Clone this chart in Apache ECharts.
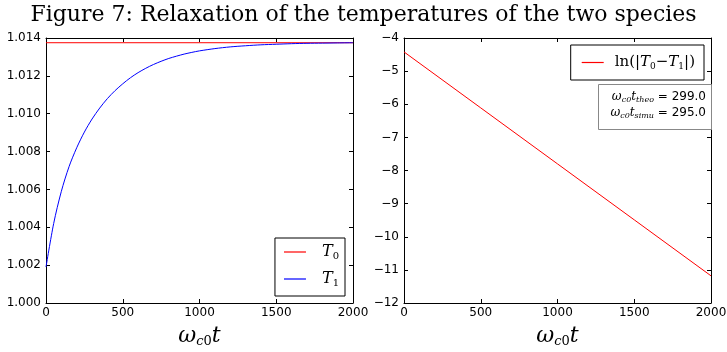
<!DOCTYPE html>
<html>
<head>
<meta charset="utf-8">
<script src="https://cdn.jsdelivr.net/npm/echarts@6/dist/echarts.min.js"></script>
<style>
  html, body { margin: 0; padding: 0; background: #fff; }
  #chart { width: 727px; height: 352px; }
</style>
</head>
<body>
<div id="chart"></div>
<script>
// Temperatures of the two species versus omega_c0 * t
const timeT1 = [0, 50, 100, 150, 200, 250, 300, 350, 400, 450, 500, 550, 600, 650, 700, 750,
                800, 850, 900, 950, 1000, 1100, 1200, 1300, 1400, 1500, 1600, 1700, 1800, 1900, 2000];
const valuesT1 = [1.0019, 1.0042, 1.0059, 1.0072, 1.0082, 1.00903, 1.00972, 1.01030, 1.01080,
                  1.01122, 1.01158, 1.01190, 1.01217, 1.01240, 1.01260, 1.01277, 1.01292, 1.01304,
                  1.01315, 1.01324, 1.01332, 1.01344, 1.01353, 1.01359, 1.01364, 1.01367, 1.01370,
                  1.01372, 1.01373, 1.01374, 1.01375];
const timeT0 = [0, 2000];
const valuesT0 = [1.01375, 1.01375];

// ln(|T0 - T1|) versus omega_c0 * t
const timeLn = [0, 500, 1000, 1500, 2000];
const valuesLn = [-4.42, -6.11, -7.80, -9.49, -11.18];

// Relaxation times quoted in the annotation box
const tTheo = 299.0;
const tSimu = 295.0;

const titleText = 'Figure 7: Relaxation of the temperatures of the two species';
const xTicks = { min: 0, max: 2000, interval: 500 };
const yTicksLeft = { min: 1.000, max: 1.014, interval: 0.002 };
const yTicksRight = { min: -12, max: -4, interval: 1 };

const pair = (xs, ys) => xs.map((x, i) => [x, ys[i]]);

const SERIF = '"DejaVu Serif", "Liberation Serif", serif';
const SANS = '"DejaVu Sans", sans-serif';

function mathRich(size) {
  return {
    i: { fontFamily: SERIF, fontStyle: 'italic', fontSize: size, color: '#000', lineHeight: 22, verticalAlign: 'middle' },
    r: { fontFamily: SERIF, fontSize: size, color: '#000', lineHeight: 22, verticalAlign: 'middle' },
    s: { fontFamily: SERIF, fontSize: Math.round(size * 0.62), color: '#000', lineHeight: 10, padding: [8, 0, 0, 0], verticalAlign: 'middle' }
  };
}

const axisNameRich = {
  w: { fontFamily: SERIF, fontStyle: 'italic', fontSize: 22, color: '#000', lineHeight: 30, verticalAlign: 'middle' },
  si: { fontFamily: SERIF, fontStyle: 'italic', fontSize: 13, color: '#000', lineHeight: 13, padding: [11, 0, 0, 0], verticalAlign: 'middle' },
  s: { fontFamily: SERIF, fontSize: 13, color: '#000', lineHeight: 13, padding: [11, 0, 0, 0], verticalAlign: 'middle' }
};

const frameLine = { show: true, onZero: false, lineStyle: { color: '#000', width: 1 } };
const innerTick = { show: true, inside: true, length: 4, lineStyle: { color: '#000', width: 1 } };
const tickLabel = { fontFamily: SANS, fontSize: 12, color: '#000' };

function bottomAxis(gridIndex) {
  return {
    type: 'value', gridIndex, position: 'bottom', ...xTicks,
    axisLine: frameLine, axisTick: innerTick, splitLine: { show: false },
    axisLabel: { ...tickLabel, margin: 4, formatter: v => String(v), showMinLabel: true, showMaxLabel: true },
    name: '{w|ω}{si|c}{s|0}{w|t}', nameLocation: 'middle', nameGap: 15,
    nameTextStyle: { rich: axisNameRich }
  };
}
function topAxis(gridIndex) {
  return {
    type: 'value', gridIndex, position: 'top', ...xTicks,
    axisLine: frameLine, axisTick: innerTick, splitLine: { show: false }, axisLabel: { show: false }
  };
}
function leftAxis(gridIndex, ticks, fmt) {
  return {
    type: 'value', gridIndex, position: 'left', ...ticks,
    axisLine: frameLine, axisTick: innerTick, splitLine: { show: false },
    axisLabel: { ...tickLabel, margin: 5, formatter: fmt, showMinLabel: true, showMaxLabel: true }
  };
}
function rightAxis(gridIndex, ticks) {
  return {
    type: 'value', gridIndex, position: 'right', ...ticks,
    axisLine: frameLine, axisTick: innerTick, splitLine: { show: false }, axisLabel: { show: false }
  };
}

const chart = echarts.init(document.getElementById('chart'), null, { renderer: 'canvas' });

chart.setOption({
  animation: false,
  backgroundColor: '#fff',
  title: {
    text: titleText, left: 'center', top: -1,
    textStyle: { fontFamily: SERIF, fontWeight: 'normal', fontSize: 22, color: '#000' }
  },
  grid: [
    { left: 46, top: 38, width: 307, height: 265, outerBoundsMode: 'none', containLabel: false },
    { left: 404, top: 38, width: 307, height: 265, outerBoundsMode: 'none', containLabel: false }
  ],
  xAxis: [bottomAxis(0), topAxis(0), bottomAxis(1), topAxis(1)],
  yAxis: [
    leftAxis(0, yTicksLeft, v => v.toFixed(3)),
    rightAxis(0, yTicksLeft),
    leftAxis(1, yTicksRight, v => String(Math.round(v)).replace('-', '\u2212')),
    rightAxis(1, yTicksRight)
  ],
  legend: [
    {
      data: ['T0', 'T1'], orient: 'vertical', right: 727 - 345, top: 238,
      icon: 'rect', itemWidth: 22, itemHeight: 1.2, itemGap: 9,
      padding: [5, 6, 8, 9],
      backgroundColor: '#fff', borderColor: '#000', borderWidth: 1, borderRadius: 0,
      formatter: name => name === 'T0' ? '{i|T}{s|0}' : '{i|T}{s|1}',
      textStyle: { padding: [0, 0, 0, 11], rich: mathRich(16) }
    },
    {
      data: ['ln'], orient: 'vertical', right: 727 - 704, top: 45,
      icon: 'rect', itemWidth: 22, itemHeight: 1.2,
      padding: [9, 9, 9, 11],
      backgroundColor: '#fff', borderColor: '#000', borderWidth: 1, borderRadius: 0,
      formatter: () => '{r|ln(|}{i|T}{s|0}{r|\u2212}{i|T}{s|1}{r||)}',
      textStyle: { padding: [0, 0, 0, 6], rich: mathRich(15) }
    }
  ],
  graphic: [
    {
      type: 'rect', z: 100,
      shape: { x: 598.5, y: 84.5, width: 113, height: 45 },
      style: { fill: '#fff', stroke: '#888', lineWidth: 1 }
    },
    {
      type: 'text', z: 101, x: 706, y: 105,
      style: {
        text: '{m|ω}{ms|c0}{m|t}{ms|theo}{n| = ' + tTheo.toFixed(1) + '}\n' +
              '{m|ω}{ms|c0}{m|t}{ms|simu}{n| = ' + tSimu.toFixed(1) + '}',
        align: 'right', verticalAlign: 'middle',
        rich: {
          m: { fontFamily: SERIF, fontStyle: 'italic', fontSize: 12, fill: '#000', lineHeight: 16, verticalAlign: 'middle' },
          ms: { fontFamily: SERIF, fontStyle: 'italic', fontSize: 8, fill: '#000', lineHeight: 8, padding: [6, 0, 0, 0], verticalAlign: 'middle' },
          n: { fontFamily: SANS, fontSize: 12, fill: '#000', lineHeight: 16, verticalAlign: 'middle' }
        }
      }
    }
  ],
  series: [
    {
      name: 'T0', type: 'line', xAxisIndex: 0, yAxisIndex: 0,
      data: pair(timeT0, valuesT0), symbol: 'none',
      lineStyle: { color: '#ff0000', width: 1 }, itemStyle: { color: '#ff0000' }
    },
    {
      name: 'T1', type: 'line', xAxisIndex: 0, yAxisIndex: 0,
      data: pair(timeT1, valuesT1), symbol: 'none', smooth: 0.3,
      lineStyle: { color: '#0000ff', width: 1 }, itemStyle: { color: '#0000ff' }
    },
    {
      name: 'ln', type: 'line', xAxisIndex: 2, yAxisIndex: 2,
      data: pair(timeLn, valuesLn), symbol: 'none',
      lineStyle: { color: '#ff0000', width: 1 }, itemStyle: { color: '#ff0000' }
    }
  ]
});
</script>
</body>
</html>
